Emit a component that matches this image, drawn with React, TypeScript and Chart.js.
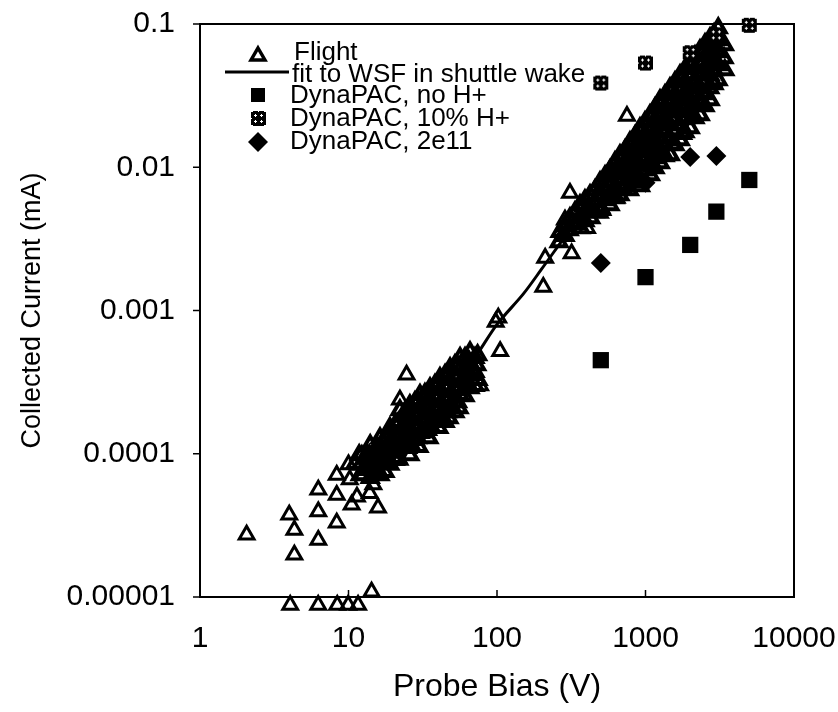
import React, { useEffect, useRef } from 'react';
import { Chart, registerables } from 'chart.js';

Chart.register(...registerables);

// ---------- axis ticks ----------
const xTickValues = [1, 10, 100, 1000, 10000];
const xTickLabels = ['1', '10', '100', '1000', '10000'];
const yTickValues = [0.00001, 0.0001, 0.001, 0.01, 0.1];
const yTickLabels = ['0.00001', '0.0001', '0.001', '0.01', '0.1'];

// ---------- Flight data: [bias V, current mA] ----------
const flightLowScatter: [number, number][] = [
  [2.06, 2.72e-5], [3.99, 3.75e-5], [4.32, 2.94e-5], [4.32, 1.97e-5],
  [6.26, 5.6e-5], [6.26, 3.95e-5], [6.26, 2.5e-5],
  [8.33, 7.1e-5], [8.33, 5.16e-5], [8.33, 3.3e-5],
  [10.0, 8.4e-5], [10.2, 6.6e-5], [10.5, 4.4e-5], [11.4, 5.0e-5], [12.3, 9.8e-5],
  [12.5, 7.1e-5], [13.9, 5.3e-5], [14.7, 6.1e-5], [15.8, 4.2e-5],
  [14.3, 1.09e-5],
  [4.05, 8.8e-6], [6.25, 8.8e-6], [8.4, 8.8e-6], [9.95, 8.8e-6], [11.6, 8.8e-6],
  [22.2, 2.38e-4], [24.6, 3.56e-4],
];

const flightMid: [number, number][] = [
  [77, 3.0e-4], [98, 8.3e-4], [102, 8.9e-4], [105, 5.2e-4],
  [205, 1.46e-3], [211, 2.33e-3], [287, 4.3e-3], [297, 4.1e-3], [310, 6.6e-3],
  [318, 2.5e-3], [379, 5.3e-3], [404, 3.75e-3], [494, 4.8e-3], [513, 5.0e-3],
  [640, 6.1e-3], [750, 0.0228],
];

const flightLowBand: [number, number][] = [
  [11.8, 9.8e-5], [12.1, 8.4e-5], [12.0, 7.1e-5],
  [14.0, 1.15e-4], [13.8, 9.8e-5], [14.2, 8.4e-5], [14.0, 6.8e-5],
  [16.3, 1.29e-4], [16.0, 1.06e-4], [16.5, 8.8e-5], [16.3, 7.1e-5],
  [19.0, 1.52e-4], [19.3, 1.25e-4], [18.8, 1.03e-4], [19.0, 8.4e-5],
  [22.2, 2.02e-4], [22.0, 1.67e-4], [22.5, 1.36e-4], [22.2, 1.1e-4], [21.8, 9.1e-5],
  [25.9, 2.19e-4], [26.3, 1.81e-4], [25.6, 1.47e-4], [26.0, 1.19e-4], [25.9, 9.8e-5],
  [30.3, 2.58e-4], [30.0, 2.09e-4], [30.8, 1.72e-4], [30.3, 1.4e-4], [29.8, 1.12e-4],
  [35.4, 2.88e-4], [35.0, 2.38e-4], [36.0, 1.96e-4], [35.4, 1.59e-4], [34.8, 1.29e-4],
  [41.3, 3.39e-4], [41.0, 2.79e-4], [42.0, 2.3e-4], [41.3, 1.87e-4], [40.6, 1.52e-4],
  [48.3, 3.97e-4], [48.0, 3.28e-4], [49.0, 2.7e-4], [48.3, 2.19e-4], [47.5, 1.78e-4],
  [56.4, 4.67e-4], [56.0, 3.85e-4], [57.0, 3.18e-4], [56.4, 2.58e-4], [55.5, 2.09e-4],
  [65.8, 5.14e-4], [65.0, 4.38e-4], [66.5, 3.56e-4], [65.8, 2.88e-4],
  [74.0, 4.9e-4], [73.0, 4.17e-4], [74.5, 3.28e-4],
];

const flightLowBand2: [number, number][] = [
  [11.06, 8.5e-5],
  [12.9, 9.36e-5], [12.9, 7.72e-5],
  [15.1, 1.06e-4], [15.1, 8.8e-5], [15.1, 7.24e-5],
  [17.6, 1.29e-4], [17.6, 1.06e-4], [17.6, 8.8e-5], [17.6, 7.48e-5],
  [20.6, 1.59e-4], [20.6, 1.31e-4], [20.6, 1.08e-4], [20.6, 9.07e-5],
  [24.0, 1.96e-4], [24.0, 1.62e-4], [24.0, 1.33e-4], [24.0, 1.1e-4],
  [28.0, 2.3e-4], [28.0, 1.9e-4], [28.0, 1.57e-4], [28.0, 1.25e-4],
  [32.7, 2.62e-4], [32.7, 2.16e-4], [32.7, 1.78e-4], [32.7, 1.42e-4],
  [38.2, 3.03e-4], [38.2, 2.49e-4], [38.2, 2.06e-4], [38.2, 1.67e-4],
  [44.7, 3.56e-4], [44.7, 2.93e-4], [44.7, 2.42e-4], [44.7, 1.96e-4], [44.7, 1.67e-4],
  [52.1, 4.17e-4], [52.1, 3.45e-4], [52.1, 2.84e-4], [52.1, 2.3e-4], [52.1, 1.96e-4],
  [60.9, 4.67e-4], [60.9, 3.85e-4], [60.9, 3.18e-4], [60.9, 2.53e-4],
  [71.1, 4.67e-4], [71.1, 3.73e-4], [71.1, 2.98e-4],
];

const flightLowCore: [number, number][] = [
  [13.4, 9.67e-5], [13.4, 8.23e-5],
  [15.7, 1.1e-4], [15.7, 9.07e-5], [15.7, 7.72e-5],
  [18.3, 1.29e-4], [18.3, 1.06e-4], [18.3, 8.8e-5],
  [21.4, 1.62e-4], [21.4, 1.33e-4], [21.4, 1.1e-4], [21.4, 9.36e-5],
  [25.0, 1.96e-4], [25.0, 1.62e-4], [25.0, 1.33e-4], [25.0, 1.1e-4],
  [29.1, 2.3e-4], [29.1, 1.9e-4], [29.1, 1.57e-4], [29.1, 1.29e-4],
  [34.0, 2.62e-4], [34.0, 2.16e-4], [34.0, 1.78e-4], [34.0, 1.47e-4],
  [39.8, 3.03e-4], [39.8, 2.49e-4], [39.8, 2.06e-4], [39.8, 1.7e-4],
  [46.4, 3.5e-4], [46.4, 2.88e-4], [46.4, 2.38e-4], [46.4, 1.96e-4],
  [54.2, 4.1e-4], [54.2, 3.39e-4], [54.2, 2.79e-4], [54.2, 2.3e-4],
  [63.3, 4.52e-4], [63.3, 3.73e-4], [63.3, 3.07e-4],
];

const flightHighBand: [number, number][] = [
  [266, 3.54e-3], [262, 3.01e-3],
  [310, 4.43e-3], [306, 3.65e-3],
  [362, 5.46e-3], [358, 4.43e-3], [366, 3.77e-3],
  [423, 6.41e-3], [418, 5.28e-3], [428, 4.43e-3],
  [494, 7.9e-3], [488, 6.41e-3], [500, 5.2e-3],
  [577, 9.58e-3], [570, 7.9e-3], [584, 6.41e-3], [577, 5.46e-3],
  [673, 0.0122], [665, 9.89e-3], [680, 8.15e-3], [673, 6.41e-3],
  [786, 0.015], [778, 0.0122], [795, 9.89e-3], [786, 8.15e-3], [780, 6.94e-3],
  [918, 0.0188], [905, 0.0155], [930, 0.0128], [918, 0.0104], [910, 8.42e-3], [925, 7.41e-3],
  [1072, 0.0232], [1060, 0.0188], [1085, 0.0155], [1072, 0.0128], [1065, 0.0104], [1080, 8.84e-3],
  [1252, 0.0295], [1240, 0.0243], [1265, 0.0197], [1252, 0.016], [1245, 0.0132], [1260, 0.0107],
  [1462, 0.0358], [1450, 0.0295], [1475, 0.0243], [1462, 0.0197], [1455, 0.016], [1470, 0.0122],
  [1708, 0.0441], [1690, 0.0358], [1720, 0.0295], [1708, 0.0243], [1700, 0.0197], [1715, 0.0155],
  [1994, 0.0543], [1980, 0.0441], [2010, 0.0358], [1994, 0.0295], [1985, 0.0243], [2000, 0.0188],
  [2328, 0.0658], [2310, 0.0543], [2345, 0.0441], [2328, 0.0358], [2320, 0.0295], [2335, 0.0232],
  [2719, 0.0799], [2700, 0.0658], [2735, 0.0543], [2719, 0.0441], [2710, 0.0358], [2725, 0.0295],
  [3090, 0.0938], [3070, 0.0773], [3100, 0.0638], [3090, 0.0517], [3080, 0.0407],
  [3400, 0.0714], [3380, 0.0579], [3420, 0.0478],
];

const flightHighBand2: [number, number][] = [
  [287, 3.9e-3], [287, 3.32e-3],
  [335, 4.88e-3], [335, 4.02e-3],
  [391, 5.91e-3], [391, 4.95e-3], [391, 4.22e-3],
  [457, 6.94e-3], [457, 5.82e-3], [457, 4.88e-3],
  [534, 8.7e-3], [534, 7.17e-3], [534, 5.91e-3],
  [623, 0.0109], [623, 8.98e-3], [623, 7.41e-3], [623, 6.11e-3],
  [728, 0.0132], [728, 0.0109], [728, 8.98e-3], [728, 7.41e-3],
  [850, 0.0165], [850, 0.0136], [850, 0.0112], [850, 9.27e-3], [850, 7.9e-3],
  [992, 0.0207], [992, 0.0171], [992, 0.0141], [992, 0.0116], [992, 9.58e-3],
  [1159, 0.0259], [1159, 0.0214], [1159, 0.0176], [1159, 0.0143], [1159, 0.0116], [1159, 9.89e-3],
  [1353, 0.0319], [1353, 0.0264], [1353, 0.0217], [1353, 0.0176], [1353, 0.0143], [1353, 0.012],
  [1580, 0.0394], [1580, 0.0325], [1580, 0.0268], [1580, 0.0217], [1580, 0.0176], [1580, 0.0143],
  [1845, 0.0485], [1845, 0.04], [1845, 0.0325], [1845, 0.0268], [1845, 0.0217], [1845, 0.0176],
  [2154, 0.0598], [2154, 0.0493], [2154, 0.04], [2154, 0.0325], [2154, 0.0268], [2154, 0.0221],
  [2516, 0.0725], [2516, 0.0598], [2516, 0.0493], [2516, 0.04], [2516, 0.0325], [2516, 0.0268],
  [2893, 0.0851], [2893, 0.0702], [2893, 0.0579], [2893, 0.0478], [2893, 0.0381],
];

const flightHighCore: [number, number][] = [
  [513, 7.41e-3], [513, 6.3e-3],
  [599, 9.27e-3], [599, 7.9e-3], [599, 6.72e-3],
  [700, 0.0116], [700, 9.89e-3], [700, 8.42e-3], [700, 7.17e-3],
  [817, 0.0145], [817, 0.0124], [817, 0.0105], [817, 8.98e-3], [817, 7.9e-3],
  [954, 0.0182], [954, 0.0155], [954, 0.0132], [954, 0.0112], [954, 9.58e-3],
  [1114, 0.0228], [1114, 0.0194], [1114, 0.0165], [1114, 0.0141], [1114, 0.012], [1114, 0.0102],
  [1302, 0.0286], [1302, 0.0243], [1302, 0.0207], [1302, 0.0176], [1302, 0.015], [1302, 0.0124],
  [1520, 0.0346], [1520, 0.0295], [1520, 0.0251], [1520, 0.0214], [1520, 0.0182], [1520, 0.0145],
  [1775, 0.042], [1775, 0.0358], [1775, 0.0305], [1775, 0.0259], [1775, 0.0221], [1775, 0.0171],
  [2073, 0.0526], [2073, 0.0448], [2073, 0.0381], [2073, 0.0325], [2073, 0.0277], [2073, 0.0228],
  [2420, 0.0627], [2420, 0.0534], [2420, 0.0455], [2420, 0.0388], [2420, 0.033], [2420, 0.0281],
  [2827, 0.0761], [2827, 0.0648], [2827, 0.0552], [2827, 0.047], [2827, 0.04],
];

// ---------- fit to WSF in shuttle wake ----------
const fitBias = [15, 20, 30, 50, 70, 100, 150, 200, 300, 400, 600, 1000, 1500, 2000, 3000];
const fitCurrent = [9e-5, 1.2e-4, 1.8e-4, 3.0e-4, 4.6e-4, 8.0e-4, 1.3e-3, 1.95e-3, 3.5e-3, 5.2e-3, 8.5e-3, 0.016, 0.026, 0.036, 0.058];

// ---------- DynaPAC ----------
const noHBias = [500, 1000, 2000, 3000, 5000];
const noHCurrent = [4.5e-4, 1.71e-3, 2.87e-3, 4.9e-3, 8.15e-3];
const tenPctBias = [500, 1000, 2000, 3000, 5000];
const tenPctCurrent = [0.0387, 0.0534, 0.063, 0.084, 0.098];
const e11Bias = [500, 1000, 2000, 3000];
const e11Current = [2.15e-3, 7.8e-3, 0.0118, 0.012];

const FONT = '"Liberation Sans", Arial, Helvetica, sans-serif';

function makeHatchMarker(): HTMLCanvasElement {
  const s = 17;
  const c = document.createElement('canvas');
  c.width = s;
  c.height = s;
  const g = c.getContext('2d')!;
  g.fillStyle = '#000';
  g.fillRect(1, 1, s - 2, s - 2);
  g.clearRect(1, 1, 2, 1);
  g.clearRect(s - 3, 1, 2, 1);
  g.clearRect(1, s - 2, 2, 1);
  g.clearRect(s - 3, s - 2, 2, 1);
  g.clearRect(8, 0, 1, 2);
  g.clearRect(0, 8, 2, 1);
  g.fillStyle = '#fff';
  const centers = [[5, 5], [11, 5], [5, 11], [11, 11]];
  for (const [cx, cy] of centers) {
    g.fillRect(cx - 1, cy, 3, 1);
    g.fillRect(cx, cy - 1, 1, 3);
  }
  return c;
}

function drawTriangle(ctx: CanvasRenderingContext2D, x: number, y: number, r: number) {
  ctx.beginPath();
  ctx.moveTo(x, y - r);
  ctx.lineTo(x + 0.866 * r, y + 0.5 * r);
  ctx.lineTo(x - 0.866 * r, y + 0.5 * r);
  ctx.closePath();
}

export default function App() {
  const ref = useRef<HTMLCanvasElement>(null);

  useEffect(() => {
    const hatch = makeHatchMarker();
    const toXY = (arr: [number, number][]) => arr.map(([x, y]) => ({ x, y }));
    const sparse = [...flightLowScatter, ...flightMid];
    const dense = [
      ...flightLowBand,
      ...flightLowBand2,
      ...flightLowCore,
      ...flightHighBand,
      ...flightHighBand2,
      ...flightHighCore,
    ];
    const flight = [...sparse, ...dense];
    const nSparse = sparse.length;

    const framePlugin = {
      id: 'frame',
      beforeDatasetsDraw(chart: any) {
        const { ctx, chartArea } = chart;
        const { left, right, top, bottom } = chartArea;
        ctx.save();
        ctx.strokeStyle = '#000';
        ctx.lineWidth = 2;
        ctx.strokeRect(left, top, right - left, bottom - top);
        ctx.lineWidth = 1.5;
        const xs = chart.scales.x;
        for (const v of xTickValues) {
          const px = xs.getPixelForValue(v);
          ctx.beginPath();
          ctx.moveTo(px, bottom);
          ctx.lineTo(px, bottom - 7);
          ctx.stroke();
        }
        const ys = chart.scales.y;
        for (const v of yTickValues) {
          const py = ys.getPixelForValue(v);
          ctx.beginPath();
          ctx.moveTo(left - 7, py);
          ctx.lineTo(left, py);
          ctx.stroke();
        }
        ctx.restore();
      },
    };

    const legendPlugin = {
      id: 'customLegend',
      afterDraw(chart: any) {
        const { ctx, chartArea } = chart;
        const L = chartArea.left;
        const T = chartArea.top;
        const ds = chart.data.datasets;
        const mx = L + 58;
        ctx.save();
        ctx.fillStyle = '#000';
        ctx.strokeStyle = '#000';
        ctx.font = `26px ${FONT}`;
        ctx.textBaseline = 'alphabetic';
        ctx.textAlign = 'left';
        // Flight
        ctx.lineWidth = 3.5;
        drawTriangle(ctx, mx, T + 32, 8);
        ctx.stroke();
        ctx.fillText(ds[0].label, L + 94, T + 36);
        // fit line
        ctx.beginPath();
        ctx.moveTo(L + 25, T + 48);
        ctx.lineTo(L + 89, T + 48);
        ctx.lineWidth = 3;
        ctx.stroke();
        ctx.fillText(ds[1].label, L + 92, T + 58);
        // no H+
        ctx.fillRect(mx - 7, T + 64, 14, 14);
        ctx.fillText(ds[2].label, L + 90, T + 79);
        // 10% H+
        ctx.drawImage(hatch, mx - 8, T + 86);
        ctx.fillText(ds[3].label, L + 90, T + 102);
        // 2e11
        ctx.beginPath();
        ctx.moveTo(mx - 10, T + 118);
        ctx.lineTo(mx, T + 108);
        ctx.lineTo(mx + 10, T + 118);
        ctx.lineTo(mx, T + 128);
        ctx.closePath();
        ctx.fill();
        ctx.fillText(ds[4].label, L + 90, T + 125);
        ctx.restore();
      },
    };

    const chart = new Chart(ref.current!, {
      type: 'scatter',
      data: {
        datasets: [
          {
            label: 'Flight',
            data: toXY(flight),
            pointStyle: 'triangle',
            pointRadius: 8.5,
            borderWidth: (c: any) => (c.dataIndex >= nSparse ? 4 : 3),
            borderColor: '#000',
            backgroundColor: 'rgba(0,0,0,0)',
            clip: false,
            order: 5,
          },
          {
            label: 'fit to WSF in shuttle wake',
            data: fitBias.map((x, i) => ({ x, y: fitCurrent[i] })),
            showLine: true,
            pointRadius: 0,
            borderColor: '#000',
            borderWidth: 3,
            tension: 0.3,
            fill: false,
            order: 4,
          },
          {
            label: 'DynaPAC, no H+',
            data: noHBias.map((x, i) => ({ x, y: noHCurrent[i] })),
            pointStyle: 'rect',
            pointRadius: 11.5,
            borderWidth: 0,
            backgroundColor: '#000',
            borderColor: '#000',
            clip: false,
            order: 3,
          },
          {
            label: 'DynaPAC, 10% H+',
            data: tenPctBias.map((x, i) => ({ x, y: tenPctCurrent[i] })),
            pointStyle: hatch,
            pointRadius: 8,
            clip: false,
            order: 1,
          },
          {
            label: 'DynaPAC, 2e11',
            data: e11Bias.map((x, i) => ({ x, y: e11Current[i] })),
            pointStyle: 'rectRot',
            pointRadius: 10,
            borderWidth: 0,
            backgroundColor: '#000',
            borderColor: '#000',
            clip: false,
            order: 2,
          },
        ] as any,
      },
      options: {
        animation: false,
        responsive: false,
        devicePixelRatio: 1,
        events: [],
        layout: { padding: { left: 0, right: 44, top: 24, bottom: 0 } },
        plugins: {
          legend: { display: false },
          tooltip: { enabled: false },
        },
        scales: {
          x: {
            type: 'logarithmic',
            position: 'bottom',
            min: 1,
            max: 10000,
            afterBuildTicks: (s: any) => {
              s.ticks = xTickValues.map((v) => ({ value: v }));
            },
            afterFit: (s: any) => {
              s.height = 115;
            },
            ticks: {
              autoSkip: false,
              maxRotation: 0,
              padding: 0,
              color: '#000',
              font: { family: FONT, size: 30 },
              callback: (v: any) => xTickLabels[xTickValues.indexOf(Number(v))] ?? '',
            },
            grid: { drawOnChartArea: false, drawTicks: true, tickLength: 24, color: 'rgba(0,0,0,0)' },
            border: { display: false },
            title: {
              display: true,
              text: 'Probe Bias (V)',
              color: '#000',
              font: { family: FONT, size: 32 },
              padding: { top: 0, bottom: 6 },
            },
          },
          y: {
            type: 'logarithmic',
            position: 'left',
            min: 0.00001,
            max: 0.1,
            afterBuildTicks: (s: any) => {
              s.ticks = yTickValues.map((v) => ({ value: v }));
            },
            afterFit: (s: any) => {
              s.width = 200;
            },
            ticks: {
              autoSkip: false,
              padding: 0,
              color: '#000',
              font: { family: FONT, size: 30 },
              callback: (v: any) => {
                const i = yTickValues.findIndex((t) => Math.abs(t - Number(v)) / t < 1e-6);
                return i >= 0 ? yTickLabels[i] : '';
              },
            },
            grid: { drawOnChartArea: false, drawTicks: true, tickLength: 25, color: 'rgba(0,0,0,0)' },
            border: { display: false },
            title: {
              display: true,
              text: 'Collected Current (mA)',
              color: '#000',
              font: { family: FONT, size: 27 },
              padding: { top: 16, bottom: 0 },
            },
          },
        },
      } as any,
      plugins: [framePlugin, legendPlugin],
    });
    return () => chart.destroy();
  }, []);

  return (
    <div style={{ position: 'fixed', left: 0, top: 0, width: 838, height: 712, background: '#fff' }}>
      <canvas ref={ref} width={838} height={712} style={{ display: 'block' }} />
    </div>
  );
}
